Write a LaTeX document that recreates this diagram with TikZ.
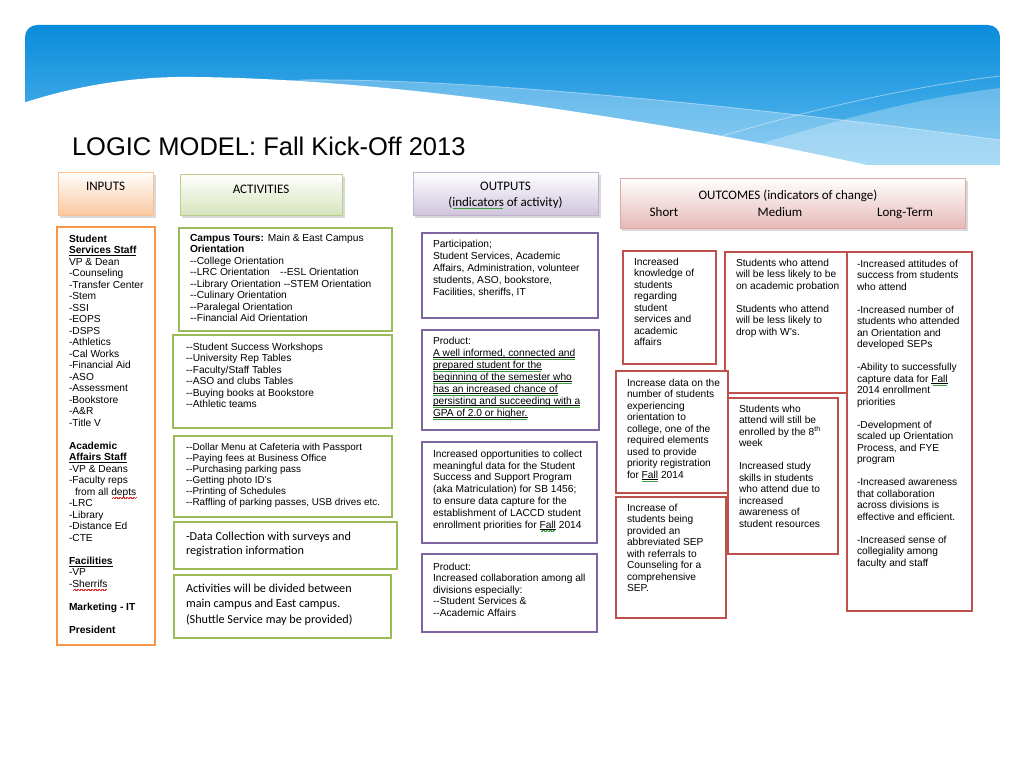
\documentclass[tikz,border=0pt]{standalone}
\usepackage{fontspec}
\setmainfont{Liberation Sans}[Ligatures=TeXOff]
\newfontfamily\calfont{Carlito}[Ligatures=TeXOff]
\definecolor{bnTop}{HTML}{0A8CDB}
\definecolor{bnBot}{HTML}{6CC2F1}
\definecolor{orB}{HTML}{F79646}
\definecolor{grB}{HTML}{9BBB59}
\definecolor{puB}{HTML}{8064A2}
\definecolor{reB}{HTML}{C0504D}
\definecolor{orF}{HTML}{FAC8A0}
\definecolor{grF}{HTML}{D7E4BD}
\definecolor{puF}{HTML}{CFC5DD}
\definecolor{reF}{HTML}{E6B9B8}
\definecolor{sqred}{HTML}{E03030}
\definecolor{sqgreen}{HTML}{40A040}
\newsavebox\sqbox
\newcommand\wavy{\hbox{\rule[-2.6pt]{0.7pt}{0.5pt}\rule[-2.0pt]{0.7pt}{0.5pt}}}
\newcommand\rsq[1]{\sbox\sqbox{#1}\rlap{\usebox\sqbox}{\color{sqred}\leaders\wavy\hskip\wd\sqbox}}
\newcommand\gsq[1]{\sbox\sqbox{#1}\rlap{\usebox\sqbox}{\color{sqgreen}\leaders\wavy\hskip\wd\sqbox}}
\newcommand\ugsq[1]{\sbox\sqbox{#1}\rlap{\usebox\sqbox}\rlap{\rule[-1.3pt]{\wd\sqbox}{0.45pt}}{\color{sqgreen}\leaders\hbox{\rule[-3.2pt]{0.7pt}{0.45pt}\rule[-2.7pt]{0.7pt}{0.45pt}}\hskip\wd\sqbox}}
\tikzset{
  every node/.style={inner sep=0pt, outer sep=0pt},
  body/.style={anchor=north west, align=left, font=\fontsize{10.2}{11.5}\selectfont},
  cbody/.style={anchor=north west, align=left, font=\calfont\fontsize{12}{15}\selectfont},
  hdr/.style={anchor=base, font=\calfont\fontsize{13}{15}\selectfont},
  cbox/.style={line width=2.6pt, fill=white},
  hbox/.style={line width=0.8pt},
  shadowbox/.style={fill=black!15},
  band/.style={fill=white, opacity=0.27},
  wline/.style={draw=white, opacity=0.45, line width=0.8pt},
}
\begin{document}
\begin{tikzpicture}[x=1pt,y=-1pt]
\useasboundingbox (0,0) rectangle (1024,768);
\fill[white] (0,0) rectangle (1024,768);
% banner
\shade[top color=bnTop, bottom color=bnBot, rounded corners=12pt] (25,25) rectangle (1000,185);
\fill[band] (290,80) .. controls (450,78) and (700,100) .. (1000,140) -- (1000,185) -- (290,185) -- cycle;
\fill[band] (680,170) .. controls (800,130) and (900,100) .. (1000,88) -- (1000,185) -- (680,185) -- cycle;
\draw[wline] (300,80) .. controls (450,78) and (700,100) .. (1000,140);
\draw[wline] (640,162) .. controls (780,115) and (900,88) .. (1000,76);
\fill[white] (20,104) .. controls (80,84) and (140,76) .. (195,77) .. controls (300,78) and (420,90) .. (522,104)
  .. controls (650,122) and (780,145) .. (880,168) -- (880,190) -- (20,190) -- cycle;
\fill[white] (0,165) rectangle (1024,190);
% title
\node[anchor=base west, font=\fontsize{25.5}{30}\selectfont] (title) at (72,155) {LOGIC MODEL: Fall Kick-Off 2013};
% header boxes
\fill[shadowbox] (60,175) rectangle (156,218);
\shade[top color=white, bottom color=orF] (58,172) rectangle (153,215);
\draw[hbox, orB!60] (58,172) rectangle (153,215);
\node[hdr] (hin) at (105.5,190) {INPUTS};
\fill[shadowbox] (182,177) rectangle (345,218);
\shade[top color=white, bottom color=grF] (180,174) rectangle (342,215);
\draw[hbox, grB!70] (180,174) rectangle (342,215);
\node[hdr] (hact) at (261,193) {ACTIVITIES};
\fill[shadowbox] (415,175) rectangle (601,218);
\shade[top color=white, bottom color=puF] (413,172) rectangle (598,215);
\draw[hbox, puB!50] (413,172) rectangle (598,215);
\node[hdr] (hout) at (505.5,190) {OUTPUTS};
\node[hdr] (hout2) at (505.5,206) {(\gsq{indicators} of activity)};
\fill[shadowbox] (622,181) rectangle (968,231);
\shade[top color=white, bottom color=reF] (620,178) rectangle (965,228);
\draw[hbox, reB!50] (620,178) rectangle (965,228);
\node[hdr] (hoc) at (788,199) {OUTCOMES (indicators of change)};
\node[hdr] (hshort) at (664,216) {Short};
\node[hdr] (hmed) at (780,216) {Medium};
\node[hdr] (hlong) at (905,216) {Long-Term};
% inputs
\draw[cbox, draw=orB] (57,227) rectangle (155,645);
\node[body] (intext) at (69,235) {\textbf{Student}\\ \textbf{\underline{Services Staff}}\\ VP \& Dean\\ -Counseling\\ -Transfer Center\\ -Stem\\ -SSI\\ -EOPS\\ -DSPS\\ -Athletics\\ -Cal Works\\ -Financial Aid\\ -ASO\\ -Assessment\\ -Bookstore\\ -A\&R\\ -Title V\\[11.5pt]
\textbf{Academic}\\ \textbf{\underline{Affairs Staff}}\\ -VP \& Deans\\ -Faculty reps\\ \hspace*{6pt}from all \rsq{depts}\\ -LRC\\ -Library\\ -Distance Ed\\ -CTE\\[11.5pt]
\textbf{\underline{Facilities}}\\ -VP\\ -\rsq{Sherrifs}\\[11.5pt] \textbf{Marketing - IT}\\[11.5pt] \textbf{President}};
% activities
\draw[cbox, draw=grB] (179,228) rectangle (392,331);
\node[body] (a1) at (190,234) {\textbf{Campus Tours:} Main \& East Campus\\ \textbf{Orientation}\\ --College Orientation\\ --LRC Orientation\quad --ESL Orientation\\ --Library Orientation --STEM Orientation\\ --Culinary Orientation\\ --Paralegal Orientation\\ --Financial Aid Orientation};
\draw[cbox, draw=grB] (173,335) rectangle (392,428);
\node[body] (a2) at (186,343) {--Student Success Workshops\\ --University Rep Tables\\ --Faculty/Staff Tables\\ --ASO and clubs Tables\\ --Buying books at Bookstore\\ --Athletic teams};
\draw[cbox, draw=grB] (174,436) rectangle (392,517);
\node[body, font=\fontsize{9.9}{11}\selectfont] (a3) at (186,443) {--Dollar Menu at Cafeteria with Passport\\ --Paying fees at Business Office\\ --Purchasing parking pass\\ --Getting photo ID’s\\ --Printing of Schedules\\ --Raffling of parking passes, USB drives etc.};
\draw[cbox, draw=grB] (174,522) rectangle (397,569);
\node[cbody, font=\calfont\fontsize{12.2}{14.5}\selectfont] (a4) at (186,532) {-Data Collection with surveys and\\ registration information};
\draw[cbox, draw=grB] (174,575) rectangle (391,638);
\node[cbody, font=\calfont\fontsize{12.2}{15.5}\selectfont] (a5) at (186,584) {Activities will be divided between\\ main campus and East campus.\\ (Shuttle Service may be provided)};
% outputs
\draw[cbox, draw=puB] (422,233) rectangle (598,318);
\node[body, font=\fontsize{10.2}{12}\selectfont] (o1) at (433,240) {Participation;\\ Student Services, Academic\\ Affairs, Administration, volunteer\\ students, ASO, bookstore,\\ Facilities, sheriffs, IT};
\draw[cbox, draw=puB] (422,330) rectangle (599,430);
\node[body, font=\fontsize{10.2}{12}\selectfont] (o2) at (433,337) {Product:\\ \ugsq{A well informed, connected and}\\ \ugsq{prepared student for the}\\ \ugsq{beginning of the semester who}\\ \ugsq{has an increased chance of}\\ \ugsq{persisting and succeeding with a}\\ \ugsq{GPA of 2.0 or higher.}};
\draw[cbox, draw=puB] (422,442) rectangle (597,543);
\node[body, font=\fontsize{10.2}{11.8}\selectfont] (o3) at (433,450) {Increased opportunities to collect\\ meaningful data for the Student\\ Success and Support Program\\ (aka Matriculation) for SB 1456;\\ to ensure data capture for the\\ establishment of LACCD student\\ enrollment priorities for \ugsq{Fall} 2014};
\draw[cbox, draw=puB] (422,554) rectangle (597,632);
\node[body, font=\fontsize{10.2}{11.4}\selectfont] (o4) at (433,563) {Product:\\ Increased collaboration among all\\ divisions especially:\\ --Student Services \&\\ --Academic Affairs};
% outcomes
\draw[cbox, draw=reB] (725,252) rectangle (848,393);
\draw[cbox, draw=reB] (623,251) rectangle (716,364);
\draw[cbox, draw=reB] (847,252) rectangle (972,611);
\draw[cbox, draw=reB] (728,398) rectangle (838,554);
\draw[cbox, draw=reB] (616,371) rectangle (728,493);
\draw[cbox, draw=reB] (616,497) rectangle (726,618);
\node[body] (s1) at (634,258) {Increased\\ knowledge of\\ students\\ regarding\\ student\\ services and\\ academic\\ affairs};
\node[body] (m1) at (736,259) {Students who attend\\ will be less likely to be\\ on academic probation\\[11.5pt] Students who attend\\ will be less likely to\\ drop with W’s.};
\node[body] (s2) at (627,379) {Increase data on the\\ number of students\\ experiencing\\ orientation to\\ college, one of the\\ required elements\\ used to provide\\ priority registration\\ for \ugsq{Fall} 2014};
\node[body] (m2) at (739,405) {Students who\\ attend will still be\\ enrolled by the 8\textsuperscript{th}\\ week\\[11.5pt] Increased study\\ skills in students\\ who attend due to\\ increased\\ awareness of\\ student resources};
\node[body] (s3) at (627,504) {Increase of\\ students being\\ provided an\\ abbreviated SEP\\ with referrals to\\ Counseling for a\\ comprehensive\\ SEP.};
\node[body] (lt) at (857,260) {-Increased attitudes of\\ success from students\\ who attend\\[11.5pt] -Increased number of\\ students who attended\\ an Orientation and\\ developed SEPs\\[11.5pt] -Ability to successfully\\ capture data for \ugsq{Fall}\\ 2014 enrollment\\ priorities\\[11.5pt] -Development of\\ scaled up Orientation\\ Process, and FYE\\ program\\[11.5pt] -Increased awareness\\ that collaboration\\ across divisions is\\ effective and efficient.\\[11.5pt] -Increased sense of\\ collegiality among\\ faculty and staff};
\end{tikzpicture}
\end{document}
